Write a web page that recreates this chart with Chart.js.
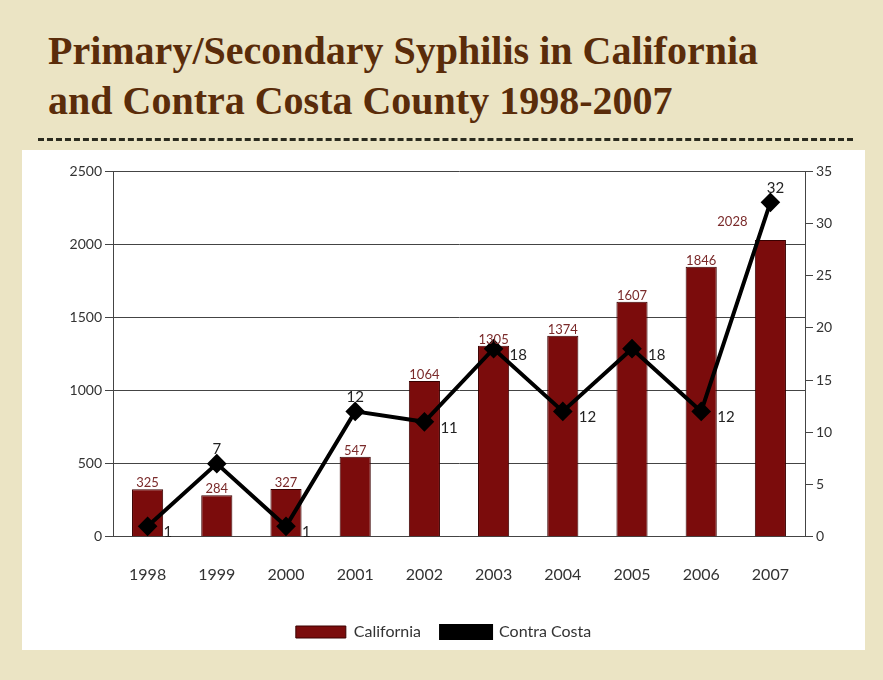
<!DOCTYPE html>
<html><head><meta charset="utf-8">
<script src="https://cdn.jsdelivr.net/npm/chart.js@4/dist/chart.umd.min.js"></script>
<style>
body{margin:0;width:883px;height:680px;background:#ebe4c4;position:relative;overflow:hidden;font-family:"Liberation Serif",serif}
h1{position:absolute;left:48px;top:26px;margin:0;font-size:40px;line-height:50px;color:#5a2c0a;font-weight:bold;font-family:"Liberation Serif",serif}
#sep{position:absolute;left:38px;top:138px;width:815px;border-top:3px dashed #2b2b1f}
#panel{position:absolute;left:22px;top:150px;width:843px;height:500px;background:#fff}
</style></head><body>
<h1>Primary/Secondary Syphilis in California<br>and Contra Costa County 1998-2007</h1>
<div id="sep"></div>
<div id="panel"><canvas id="c" width="843" height="500"></canvas></div>
<script>
const years=["1998","1999","2000","2001","2002","2003","2004","2005","2006","2007"];
const california=[325,284,327,547,1064,1305,1374,1607,1846,2028];
const contraCosta=[1,7,1,12,11,18,12,18,12,32];
const leftTicks=[0,500,1000,1500,2000,2500];
const rightTicks=[0,5,10,15,20,25,30,35];
const labels={id:'labels',afterDatasetsDraw(ch){
 const c=ch.ctx;c.save();c.textAlign='center';
 ch.getDatasetMeta(0).data.forEach((b,i)=>{c.fillStyle='#7a2a2a';c.font='13px Lato';
  const dx=i==9?-38:0;c.fillText(california[i],b.x+dx,b.y-(i==9?18:6));});
 ch.getDatasetMeta(1).data.forEach((p,i)=>{c.fillStyle='#222';c.font='15px Lato';
  const up=[1,3,9].includes(i);
  if(up)c.fillText(contraCosta[i],p.x+(i==9?5:0),p.y-14);else{c.textAlign='left';c.fillText(contraCosta[i],p.x+16,p.y+6);c.textAlign='center';}});
 c.restore();}};
new Chart(document.getElementById('c'),{
 data:{labels:years,datasets:[
  {type:'bar',label:'California',data:california,backgroundColor:'#7b0c0c',borderColor:'#3a0000',borderWidth:1,yAxisID:'y',barPercentage:0.9,categoryPercentage:0.5,order:2},
  {type:'line',label:'Contra Costa',data:contraCosta,borderColor:'#000',backgroundColor:'#000',borderWidth:4,pointStyle:'rectRot',pointRadius:7,yAxisID:'y1',tension:0,order:1}]},
 options:{responsive:false,animation:false,
  layout:{padding:{top:21,bottom:0}},
  plugins:{legend:{position:'bottom',labels:{sort:(a,b)=>a.datasetIndex-b.datasetIndex,font:{family:'Lato',size:16},color:'#333',boxWidth:50,boxHeight:12,padding:20}},tooltip:{enabled:false}},
  scales:{
   x:{grid:{display:false},border:{color:'#444'},ticks:{font:{family:'Lato',size:16},color:'#333',padding:20}},
   y:{min:0,max:2500,afterBuildTicks(a){a.ticks=leftTicks.map(v=>({value:v}));},afterFit(a){a.width=91;},grid:{color:'#444',tickLength:8},border:{color:'#444'},ticks:{callback:v=>String(v),font:{family:'Lato',size:14},color:'#333'}},
   y1:{position:'right',min:0,max:35,afterBuildTicks(a){a.ticks=rightTicks.map(v=>({value:v}));},afterFit(a){a.width=60;},grid:{drawOnChartArea:false,color:'#444',tickLength:8},border:{color:'#444'},ticks:{font:{family:'Lato',size:14},color:'#333'}}}},
 plugins:[labels]});
</script></body></html>
